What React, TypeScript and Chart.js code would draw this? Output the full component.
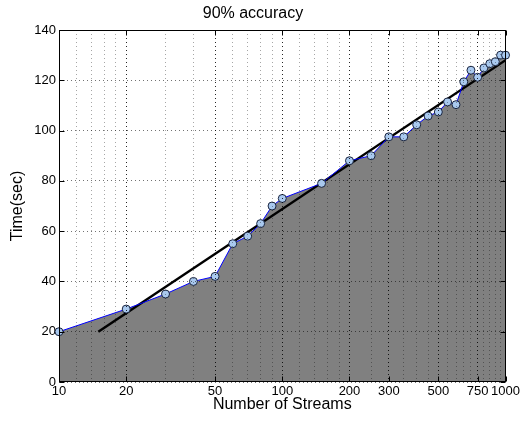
import { useEffect, useRef } from 'react';
import { Chart, registerables } from 'chart.js';

Chart.register(...registerables);

const streams = [10, 20, 30, 40, 50, 60, 70, 80, 90, 100, 150, 200, 250, 300, 350, 400, 450, 500, 550, 600, 650, 700, 750, 800, 850, 900, 950, 1000];
const times = [20, 29, 35, 40, 42, 55, 58, 63, 70, 73, 79, 88, 90, 97.5, 97.5, 102.3, 105.8, 107.4, 111.4, 110.3, 119.4, 124, 121.2, 124.9, 126.6, 127.4, 130, 130];
const fitStreams = [15, 1000];
const fitTimes = [20, 128];
const xTickLabels = [10, 20, 50, 100, 200, 300, 500, 750, 1000];
const xMinorGrid = [12, 14, 16, 18, 30, 40, 60, 70, 80, 90, 120, 140, 160, 180, 250, 350, 400, 450, 550, 600, 650, 700, 800, 850, 900, 950];
const yTickValues = [0, 20, 40, 60, 80, 100, 120, 140];

const FONT = "'Liberation Sans', Arial, Helvetica, sans-serif";

const boxPlugin = {
  id: 'boxPlugin',
  afterDraw(chart: any) {
    const { ctx, chartArea: a, scales } = chart;
    const L = Math.round(a.left) + 0.5;
    const R = Math.round(a.right) - 0.5;
    const T = Math.round(a.top) + 0.5;
    const B = Math.round(a.bottom) - 0.5;
    ctx.save();
    ctx.strokeStyle = '#000';
    ctx.lineWidth = 1;
    ctx.setLineDash([]);
    ctx.beginPath();
    xTickLabels.forEach((v) => {
      const px = Math.round(scales.x.getPixelForValue(v)) + 0.5;
      ctx.moveTo(px, B);
      ctx.lineTo(px, B - 5);
      ctx.moveTo(px, T);
      ctx.lineTo(px, T + 5);
    });
    yTickValues.forEach((v) => {
      const py = Math.round(scales.y.getPixelForValue(v)) + 0.5;
      ctx.moveTo(L, py);
      ctx.lineTo(L + 5, py);
      ctx.moveTo(R, py);
      ctx.lineTo(R - 5, py);
    });
    ctx.stroke();
    ctx.strokeRect(L, T, R - L, B - T);
    ctx.restore();
  },
};

export default function App() {
  const ref = useRef<HTMLCanvasElement>(null);

  useEffect(() => {
    if (!ref.current) return;
    Chart.defaults.font.family = FONT;
    Chart.defaults.color = '#000';
    const areaData = streams.map((x, i) => ({ x, y: times[i] }));
    const fitData = fitStreams.map((x, i) => ({ x, y: fitTimes[i] }));
    const chart = new Chart(ref.current, {
      type: 'line',
      data: {
        datasets: [
          {
            data: areaData,
            fill: 'origin',
            backgroundColor: '#808080',
            borderWidth: 0,
            pointRadius: 0,
            order: 3,
          },
          {
            data: fitData,
            fill: false,
            borderColor: '#000',
            borderWidth: 2.5,
            pointRadius: 0,
            order: 2,
          },
          {
            data: areaData,
            fill: false,
            clip: false,
            borderColor: '#0000ff',
            borderWidth: 1,
            pointRadius: 4,
            pointBackgroundColor: '#a9c9ef',
            pointBorderColor: '#1a2540',
            pointBorderWidth: 1,
            order: 1,
          },
        ],
      },
      options: {
        animation: false,
        responsive: false,
        layout: { padding: { left: 0, right: 16, top: 0, bottom: 0 } },
        plugins: {
          legend: { display: false },
          tooltip: { enabled: false },
          title: {
            display: true,
            text: '90% accuracy',
            color: '#000',
            font: { size: 16, weight: 'normal', family: FONT },
            padding: { top: 4, bottom: 6.8 },
          },
        },
        scales: {
          x: {
            type: 'logarithmic',
            min: 10,
            max: 1000,
            afterBuildTicks: (scale: any) => {
              scale.ticks = [...xTickLabels, ...xMinorGrid]
                .sort((a, b) => a - b)
                .map((v) => ({ value: v }));
            },
            afterFit: (scale: any) => {
              scale.height = 42;
            },
            ticks: {
              autoSkip: false,
              maxRotation: 0,
              padding: 2,
              color: '#000',
              font: { size: 13, family: FONT },
              callback: (v: any) => (xTickLabels.includes(Number(v)) ? String(v) : ''),
            },
            grid: {
              z: 1,
              drawTicks: false,
              lineWidth: 1,
              color: (c: any) =>
                c.tick && xTickLabels.includes(c.tick.value) ? 'rgba(0,0,0,0.85)' : 'rgba(0,0,0,0.35)',
            },
            border: { display: false, dash: [1, 3] },
            title: {
              display: true,
              text: 'Number of Streams',
              color: '#000',
              font: { size: 16, family: FONT },
              padding: { top: 0, bottom: 10 },
            },
          },
          y: {
            type: 'linear',
            min: 0,
            max: 140,
            afterBuildTicks: (scale: any) => {
              scale.ticks = yTickValues.map((v) => ({ value: v }));
            },
            afterFit: (scale: any) => {
              scale.width = 59;
            },
            ticks: {
              padding: 3,
              color: '#000',
              font: { size: 13, family: FONT },
              callback: (v: any) => String(v),
            },
            grid: {
              z: 1,
              drawTicks: false,
              lineWidth: 1,
              color: 'rgba(0,0,0,0.55)',
            },
            border: { display: false, dash: [1, 3] },
            title: {
              display: true,
              text: 'Time(sec)',
              color: '#000',
              font: { size: 16, family: FONT },
              padding: { top: 8, bottom: 0 },
            },
          },
        },
      },
      plugins: [boxPlugin],
    });
    return () => chart.destroy();
  }, []);

  return (
    <div style={{ position: 'absolute', left: 0, top: 0, width: 522, height: 424, background: '#fff' }}>
      <canvas ref={ref} width={522} height={424} />
    </div>
  );
}
